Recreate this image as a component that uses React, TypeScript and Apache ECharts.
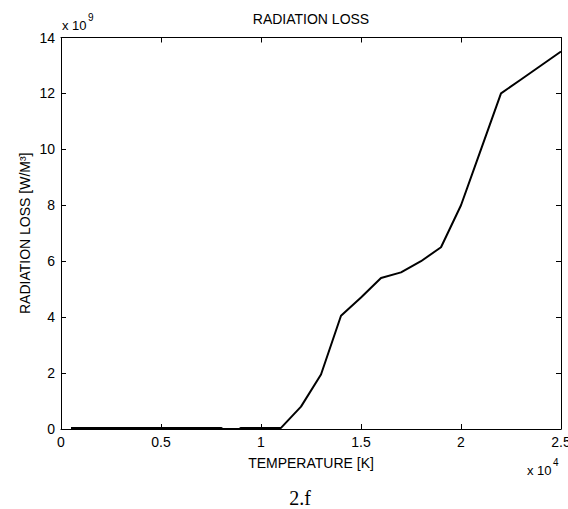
import React, { useEffect, useRef } from "react";
import * as echarts from "echarts";

// Temperature [K]
const temperature = [
  500, 1000, 2000, 3000, 4000, 5000, 6000, 7000, 8000, 8100, 8900, 9000,
  10000, 11000, 12000, 13000, 14000, 15000, 16000, 17000, 18000, 19000,
  20000, 21000, 22000, 23000, 24000, 25000,
];
// Radiation loss [x 10^9 W/m^3]
const radiationLoss = [
  0.04, 0.04, 0.04, 0.04, 0.04, 0.04, 0.04, 0.04, 0.04, 0.0, 0.0, 0.04,
  0.04, 0.04, 0.8, 1.95, 4.05, 4.7, 5.4, 5.6, 6.0, 6.5,
  8.0, 10.0, 12.0, 12.5, 13.0, 13.5,
];
const xTickStep = 5000;
const yTickStep = 2;

const FONT = "Liberation Sans, Arial, Helvetica, sans-serif";

export default function App() {
  const ref = useRef<HTMLDivElement>(null);
  useEffect(() => {
    if (!ref.current) return;
    const chart = echarts.init(ref.current, null, { renderer: "svg" });
    const L = 61, R = 561, T = 37.5, B = 429;
    const axisCommon = {
      axisLine: { show: true, onZero: false, lineStyle: { color: "#000", width: 1 } },
      axisTick: { show: true, inside: true, length: 5, lineStyle: { color: "#000" } },
      splitLine: { show: false },
    };
    chart.setOption({
      animation: false,
      backgroundColor: "#fff",
      grid: {
        left: L, right: 568 - R, top: T, bottom: 509 - B,
        containLabel: false, outerBoundsMode: "none",
      },
      xAxis: [
        {
          type: "value", min: 0, max: 25000, interval: xTickStep, position: "bottom",
          ...axisCommon,
          axisLabel: {
            show: true, margin: 6, color: "#000", fontSize: 14, fontFamily: FONT,
            formatter: (v: number) => String(v / 10000),
            showMaxLabel: true, showMinLabel: true,
          },
        },
        {
          type: "value", min: 0, max: 25000, interval: xTickStep, position: "top",
          ...axisCommon, axisLabel: { show: false },
        },
      ],
      yAxis: [
        {
          type: "value", min: 0, max: 14, interval: yTickStep, position: "left",
          ...axisCommon,
          axisLabel: { show: true, margin: 6, color: "#000", fontSize: 14, fontFamily: FONT },
        },
        {
          type: "value", min: 0, max: 14, interval: yTickStep, position: "right",
          ...axisCommon, axisLabel: { show: false },
        },
      ],
      series: [
        {
          type: "line",
          xAxisIndex: 0,
          yAxisIndex: 0,
          data: temperature.map((t, i) => [t, radiationLoss[i]]),
          showSymbol: false,
          symbol: "none",
          lineStyle: { color: "#000", width: 2 },
        },
      ],
      graphic: [
        {
          type: "text", x: (L + R) / 2, y: 19,
          style: { text: "RADIATION LOSS", font: `14px ${FONT}`, fill: "#000", textAlign: "center", textVerticalAlign: "middle", verticalAlign: "middle" },
        },
        {
          type: "text", x: 62, y: 25,
          style: { text: "x 10", font: `13px ${FONT}`, fill: "#000", textAlign: "left", textVerticalAlign: "middle", verticalAlign: "middle" },
        },
        {
          type: "text", x: 88, y: 17,
          style: { text: "9", font: `10px ${FONT}`, fill: "#000", textAlign: "left", textVerticalAlign: "middle", verticalAlign: "middle" },
        },
        {
          type: "text", x: 527, y: 470,
          style: { text: "x 10", font: `13px ${FONT}`, fill: "#000", textAlign: "left", textVerticalAlign: "middle", verticalAlign: "middle" },
        },
        {
          type: "text", x: 553, y: 462,
          style: { text: "4", font: `10px ${FONT}`, fill: "#000", textAlign: "left", textVerticalAlign: "middle", verticalAlign: "middle" },
        },
        {
          type: "text", x: (L + R) / 2, y: 463,
          style: { text: "TEMPERATURE [K]", font: `14px ${FONT}`, fill: "#000", textAlign: "center", textVerticalAlign: "middle", verticalAlign: "middle" },
        },
        {
          type: "text", x: 24.5, y: (T + B) / 2, rotation: Math.PI / 2,
          style: { text: "RADIATION LOSS [W/M³]", font: `14px ${FONT}`, fill: "#000", textAlign: "center", textVerticalAlign: "middle", verticalAlign: "middle" },
        },
        {
          type: "text", x: 300, y: 498,
          style: { text: "2.f", font: `20px "Liberation Serif", "Times New Roman", serif`, fill: "#000", textAlign: "center", textVerticalAlign: "middle", verticalAlign: "middle" },
        },
      ],
    });
    return () => chart.dispose();
  }, []);
  return (
    <div
      ref={ref}
      style={{ position: "fixed", left: 0, top: 0, width: 568, height: 509, background: "#fff" }}
    />
  );
}
